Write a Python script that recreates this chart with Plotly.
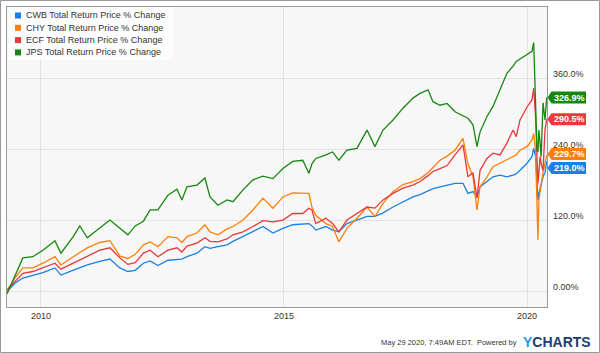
import plotly.graph_objects as go

dates = [
    "2009-04-21", "2009-06-19", "2009-08-18", "2009-11-01", "2010-01-16", "2010-04-16",
    "2010-05-31", "2010-08-29", "2010-10-20", "2010-12-15", "2011-03-19", "2011-06-03",
    "2011-08-17", "2011-10-16", "2011-12-10", "2012-02-10", "2012-03-31", "2012-05-29",
    "2012-08-12", "2012-10-19", "2012-11-25", "2013-01-02", "2013-03-18", "2013-05-17",
    "2013-06-24", "2013-08-23", "2013-10-30", "2013-12-14", "2014-02-27", "2014-05-13",
    "2014-07-27", "2014-10-10", "2014-12-24", "2015-03-08", "2015-05-22", "2015-07-07",
    "2015-07-30", "2015-08-28", "2015-11-12", "2016-01-01", "2016-02-17", "2016-04-18",
    "2016-07-02", "2016-09-16", "2016-11-14", "2017-01-14", "2017-03-30", "2017-06-13",
    "2017-08-27", "2017-10-19", "2017-12-18", "2018-01-24", "2018-03-18", "2018-05-10",
    "2018-07-09", "2018-09-07", "2018-10-14", "2018-11-21", "2018-12-21", "2019-01-13",
    "2019-03-06", "2019-04-20", "2019-06-12", "2019-08-03", "2019-09-18", "2019-10-12",
    "2019-11-09", "2020-01-01", "2020-02-07", "2020-02-20", "2020-03-05", "2020-03-16",
    "2020-03-23", "2020-03-30", "2020-04-08", "2020-04-16", "2020-04-30", "2020-05-15",
    "2020-05-28",
]

cwb = [
    -1, 13, 22, 27, 31, 39, 27, 35, 40, 44, 50, 54,
    39, 33, 35, 47, 51, 43, 52, 54, 54, 58, 64, 75,
    72, 75, 78, 84, 92, 100, 109, 98, 106, 112, 114, 114,
    110, 103, 109, 103, 100, 114, 120, 126, 126, 132, 142, 150,
    159, 163, 169, 173, 176, 179, 182, 182, 165, 168, 159, 176,
    185, 193, 196, 193, 196, 198, 204, 216, 227, 241, 227, 188,
    154, 165, 176, 180, 193, 200, 219.0,
]
chy = [
    0, 22, 39, 39, 47, 58, 44, 58, 65, 73, 82, 85,
    59, 55, 62, 78, 83, 75, 92, 90, 82, 92, 98, 112,
    100, 95, 105, 109, 120, 137, 157, 140, 159, 166, 165, 165,
    142, 128, 114, 109, 83, 106, 123, 142, 126, 148, 168, 180,
    185, 190, 200, 208, 221, 228, 238, 258, 215, 193, 137, 176,
    193, 210, 216, 221, 227, 230, 238, 244, 255, 266, 238, 149,
    86, 154, 170, 185, 200, 216, 229.7,
]
ecf = [
    2, 16, 30, 33, 39, 47, 37, 47, 53, 59, 69, 73,
    56, 45, 48, 64, 69, 58, 69, 73, 66, 76, 81, 90,
    84, 83, 88, 95, 100, 109, 119, 117, 120, 131, 131, 140,
    137, 114, 123, 114, 100, 120, 131, 142, 140, 154, 165, 174,
    179, 185, 195, 202, 207, 212, 230, 247, 193, 200, 157, 204,
    224, 233, 230, 250, 272, 261, 289, 311, 323, 343, 295, 216,
    182, 200, 227, 215, 204, 272, 290.5,
]
jps = [
    -5, 24, 56, 58, 69, 85, 64, 91, 110, 90, 106, 120,
    106, 95, 110, 118, 137, 137, 162, 172, 154, 176, 179, 191,
    159, 145, 154, 151, 171, 188, 194, 190, 207, 219, 221, 199,
    215, 224, 230, 235, 221, 238, 241, 272, 244, 272, 289, 309,
    326, 334, 340, 320, 314, 317, 303, 297, 292, 281, 244, 269,
    295, 312, 340, 368, 380, 388, 392, 400, 405, 420, 301, 238,
    235, 272, 250, 227, 318, 289, 326.9,
]

names = [
    "CWB Total Return Price % Change",
    "CHY Total Return Price % Change",
    "ECF Total Return Price % Change",
    "JPS Total Return Price % Change",
]
series = [cwb, chy, ecf, jps]
colors = ["#1a80e6", "#ff7f0a", "#e8383b", "#17870f"]
tag_texts = ["219.0%", "229.7%", "290.5%", "326.9%"]
tag_shift_px = [-6.5, 1, 0, 0]

ytick_vals = [0, 120, 240, 360]
ytick_text = ["0.00%", "120.0%", "240.0%", "360.0%"]
xtick_vals = ["2010-01-01", "2015-01-01", "2020-01-01"]
xtick_text = ["2010", "2015", "2020"]

FONT = "Liberation Sans, Arial, sans-serif"
W, H = 600, 353
ML, MR, MT, MB = 7, 53, 7, 46
PW, PH = W - ML - MR, H - MT - MB


def px(xp):
    return (xp - ML) / PW


def py(yp):
    return (H - MB - yp) / PH


fig = go.Figure()
for name, vals, col in zip(names, series, colors):
    fig.add_trace(go.Scatter(x=dates, y=vals, mode="lines", name=name,
                             line=dict(color=col, width=1.3), showlegend=False))

shapes = []
annotations = []

# outer border
shapes.append(dict(type="rect", xref="paper", yref="paper",
                   x0=px(0.5), x1=px(W - 0.5), y0=py(H - 0.5), y1=py(0.5),
                   line=dict(color="#999999", width=1), fillcolor="rgba(0,0,0,0)", layer="below"))
# legend box
shapes.append(dict(type="rect", xref="paper", yref="paper",
                   x0=px(7.5), x1=px(173), y0=py(60), y1=py(7.5),
                   line=dict(width=0), fillcolor="rgba(255,255,255,0.75)", layer="above"))
for i, (name, col) in enumerate(zip(names, colors)):
    yc = 15.5 + 12.3 * i
    shapes.append(dict(type="rect", xref="paper", yref="paper",
                       x0=px(15), x1=px(21), y0=py(yc + 3), y1=py(yc - 3),
                       line=dict(width=0), fillcolor=col, layer="above"))
    annotations.append(dict(xref="paper", yref="paper", x=px(24), y=py(yc),
                            xanchor="left", yanchor="middle", showarrow=False,
                            text=name, font=dict(family=FONT, size=9, color="#333333")))

# right-hand axis labels (sit just above their gridlines)
for v, t in zip(ytick_vals, ytick_text):
    annotations.append(dict(xref="paper", yref="y", x=px(550.5), y=v, yshift=4,
                            xanchor="left", yanchor="middle", showarrow=False,
                            text=t, font=dict(family=FONT, size=9, color="#333333")))

# value tags
for vals, col, txt, sh in zip(series, colors, tag_texts, tag_shift_px):
    v = vals[-1]
    shapes.append(dict(type="path", xref="paper", yref="y",
                       xsizemode="pixel", ysizemode="pixel", xanchor=1, yanchor=v,
                       path=f"M 0.5 {sh} L 4.5 {sh + 6} L 39 {sh + 6} L 39 {sh - 6} L 4.5 {sh - 6} Z",
                       fillcolor=col, line=dict(width=0), layer="above"))
    annotations.append(dict(xref="paper", yref="y", x=px(569), y=v, yshift=sh,
                            xanchor="center", yanchor="middle", showarrow=False,
                            text=f"<b>{txt}</b>",
                            font=dict(family=FONT, size=9, color="#ffffff")))

# footer
annotations.append(dict(xref="paper", yref="paper", x=px(519), y=py(342.5),
                        xanchor="right", yanchor="middle", showarrow=False,
                        text="May 29 2020, 7:49AM EDT.  Powered by",
                        font=dict(family=FONT, size=7.5, color="#333333")))
annotations.append(dict(xref="paper", yref="paper", x=px(521), y=py(342),
                        xanchor="left", yanchor="middle", showarrow=False,
                        text="<b><span style='color:#1f9be0'>Y</span>CHARTS</b>",
                        font=dict(family=FONT, size=14, color="#1b3d70")))

fig.update_layout(
    width=W, height=H,
    margin=dict(l=ML, r=MR, t=MT, b=MB, pad=0),
    paper_bgcolor="#ffffff",
    plot_bgcolor="#f7f7f7",
    font=dict(family=FONT, size=9, color="#333333"),
    showlegend=False,
    shapes=shapes,
    annotations=annotations,
    xaxis=dict(range=["2009-04-21", "2020-05-30"], tickvals=xtick_vals, ticktext=xtick_text,
               showgrid=True, gridcolor="#e2e2e2", gridwidth=1, zeroline=False,
               showline=True, linecolor="#999999", linewidth=1, mirror=True,
               ticks="", tickfont=dict(size=9, color="#333333")),
    yaxis=dict(range=[-27, 480], side="right", tickvals=ytick_vals,
               showticklabels=False,
               showgrid=True, gridcolor="#e2e2e2", gridwidth=1, zeroline=False,
               showline=True, linecolor="#999999", linewidth=1, mirror=True,
               ticks=""),
)

fig.write_html("out.html")
